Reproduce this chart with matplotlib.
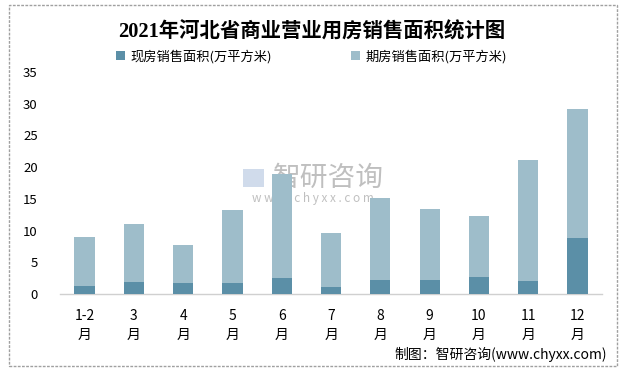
import matplotlib
matplotlib.use("Agg")
import matplotlib.pyplot as plt
from matplotlib.patches import Rectangle

plt.rcParams['font.family'] = ['Noto Sans CJK SC', 'DejaVu Sans']

# ---------------------------------------------------------------------------
# Data (万平方米)
# ---------------------------------------------------------------------------
months = ["1-2\n月", "3\n月", "4\n月", "5\n月", "6\n月", "7\n月",
          "8\n月", "9\n月", "10\n月", "11\n月", "12\n月"]
current_sales = [1.3, 1.9, 1.7, 1.7, 2.5, 1.1, 2.2, 2.2, 2.7, 2.0, 8.8]
future_sales = [7.7, 9.1, 6.0, 11.5, 16.4, 8.5, 12.9, 11.2, 9.6, 19.1, 20.4]

c_dark = "#5b8fa7"
c_light = "#9ebdca"

fig = plt.figure(figsize=(6.24, 3.71), dpi=100)
ax = fig.add_axes([0.096, 0.2075, 0.869, 0.5985])

x = range(len(months))
ax.bar(x, current_sales, width=0.41, color=c_dark, label="现房销售面积(万平方米)", zorder=3)
ax.bar(x, future_sales, width=0.41, bottom=current_sales, color=c_light,
       label="期房销售面积(万平方米)", zorder=3)

ax.set_xlim(-0.5, len(months) - 0.5)
ax.set_ylim(0, 35)
ax.set_yticks(range(0, 36, 5))
ax.set_xticks(list(x))
ax.set_xticklabels(months, fontsize=10, linespacing=1.45)
ax.tick_params(axis="y", length=0, pad=16, labelsize=9.5)
ax.tick_params(axis="x", length=0, pad=11)
for s in ["top", "right", "left"]:
    ax.spines[s].set_visible(False)
ax.spines["bottom"].set_color("#d0d0d0")
ax.spines["bottom"].set_linewidth(1.0)

# title
fig.text(0.5, 0.912, "2021年河北省商业营业用房销售面积统计图", ha="center", va="center",
         fontsize=14.7, fontweight="bold", family=["Liberation Serif", "Noto Sans CJK SC"])

# legend
fig.legend(loc="center", bbox_to_anchor=(0.499, 0.848), ncol=2, frameon=False,
           fontsize=9.5, handlelength=0.7, handleheight=0.7, handletextpad=0.4,
           columnspacing=6.0)

# watermark (behind the bars)
ax.text(0.526, 0.52, "智研咨询", transform=fig.transFigure, ha="center", va="center",
        fontsize=20, color="#b0b0b0", alpha=0.8, zorder=1, clip_on=False)
ax.text(0.502, 0.466, "w w w . c h y x x . c o m", transform=fig.transFigure,
        ha="center", va="center", fontsize=8.5, color="#b0b0b0", alpha=0.8,
        zorder=1, clip_on=False)
ax.add_patch(Rectangle((0.389, 0.495), 0.034, 0.05, transform=fig.transFigure,
                       facecolor="#c5d3e6", edgecolor="none", alpha=0.8,
                       zorder=1, clip_on=False))

# source
fig.text(0.973, 0.045, "制图：智研咨询(www.chyxx.com)", ha="right", va="center", fontsize=10)

# outer border
fig.patches.append(Rectangle((0.015, 0.013), 0.974, 0.973, transform=fig.transFigure,
                             fill=False, edgecolor="#a0a0a0", lw=1.0, ls=(0, (2, 1))))

fig.savefig("out.png", dpi=100)
